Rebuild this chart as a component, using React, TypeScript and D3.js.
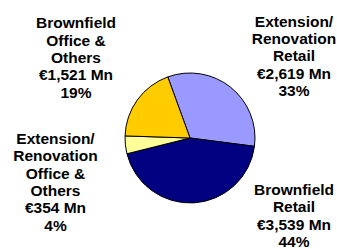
import React from "react";
import * as d3 from "d3";

const categories = [
  "Extension/Renovation Retail",
  "Brownfield Retail",
  "Extension/Renovation Office & Others",
  "Brownfield Office & Others",
];
const values = [2619, 3539, 354, 1521];
const percents = ["33%", "44%", "4%", "19%"];
const amounts = ["€2,619 Mn", "€3,539 Mn", "€354 Mn", "€1,521 Mn"];
const nameLines = [
  ["Extension/", "Renovation", "Retail"],
  ["Brownfield", "Retail"],
  ["Extension/", "Renovation", "Office &", "Others"],
  ["Brownfield", "Office &", "Others"],
];
const colors = ["#9999FF", "#000080", "#FFFF99", "#FFCC00"];

const W = 337;
const H = 249;
const cx = 190;
const cy = 138;
const R = 65;
const labelPos = [
  { x: 294, y: 26.7 },
  { x: 294, y: 195 },
  { x: 55.5, y: 144 },
  { x: 76, y: 28.3 },
];
const LH = 17.3;

export default function App() {
  const pie = d3
    .pie<number>()
    .sort(null)
    .value((d) => d)
    .startAngle((-20 * Math.PI) / 180)
    .endAngle((340 * Math.PI) / 180);
  const arcs = pie(values);
  const arc = d3.arc<d3.PieArcDatum<number>>().innerRadius(0).outerRadius(R);

  return (
    <svg
      width={W}
      height={H}
      style={{ position: "absolute", left: 0, top: 0, background: "#fff" }}
      fontFamily="'Liberation Sans', Arial, sans-serif"
    >
      <g transform={`translate(${cx},${cy})`}>
        {arcs.map((a, i) => (
          <path
            key={categories[i]}
            d={arc(a) || ""}
            fill={colors[i]}
            stroke="#000"
            strokeWidth={1}
            strokeLinejoin="round"
          />
        ))}
      </g>
      {labelPos.map((p, i) => {
        const lines = [...nameLines[i], amounts[i], percents[i]];
        return (
          <text
            key={i}
            x={p.x}
            y={p.y}
            textAnchor="middle"
            fontWeight="bold"
            fontSize={15.5}
            fill="#000"
          >
            {lines.map((l, j) => (
              <tspan key={j} x={p.x} y={p.y + j * LH}>
                {l}
              </tspan>
            ))}
          </text>
        );
      })}
    </svg>
  );
}
